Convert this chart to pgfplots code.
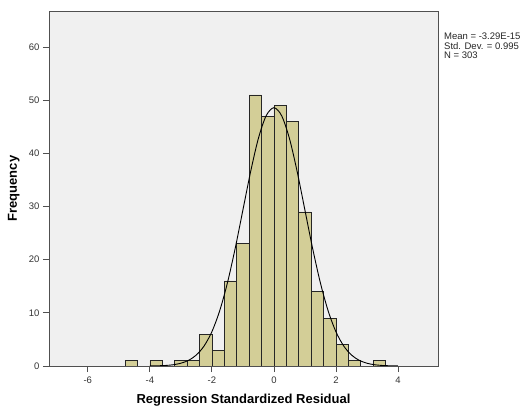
\documentclass[border=0pt]{standalone}
\usepackage{fontspec}
\setmainfont{Liberation Sans}
\usepackage{pgfplots}
\pgfplotsset{compat=1.18}
\definecolor{barfill}{RGB}{211,206,151}
\definecolor{plotbg}{RGB}{240,240,240}
\definecolor{framec}{RGB}{80,80,80}
\begin{document}
\begin{tikzpicture}
\begin{axis}[
  name=ax,
  scale only axis, width=389bp, height=355bp,
  xmin=-7.25, xmax=5.29, ymin=0, ymax=66.8,
  axis background/.style={fill=plotbg},
  axis line style={framec, line width=0.9bp},
  xtick={-6,-4,-2,0,2,4}, ytick={0,10,20,30,40,50,60},
  tick pos=left, tick align=outside,
  major tick length=6bp,
  tick style={framec, line width=0.8bp},
  /pgf/number format/assume math mode=true,
  ticklabel style={font=\fontsize{9.5bp}{11bp}\selectfont, text=black!80},
  xticklabel style={yshift=-1bp},
  xlabel={Regression Standardized Residual},
  ylabel={Frequency},
  label style={font=\bfseries\fontsize{13bp}{15bp}\selectfont},
  xlabel style={at={(axis description cs:0.5,0)}, anchor=center, yshift=-34bp},
  ylabel style={at={(axis description cs:-0.0905,0.5)}, anchor=center, rotate=0},
]
\addplot[ybar interval, fill=barfill, draw=black!85, line width=0.6bp] coordinates {
(-4.8,1) (-4.4,0) (-4.0,1) (-3.6,0) (-3.2,1) (-2.8,1) (-2.4,6) (-2.0,3)
(-1.6,16) (-1.2,23) (-0.8,51) (-0.4,47) (0.0,49) (0.4,46) (0.8,29)
(1.2,14) (1.6,9) (2.0,4) (2.4,1) (2.8,0) (3.2,1) (3.6,0)
};
\addplot[black, line width=0.9bp, smooth] coordinates {
(-4.0,0.01) (-3.75,0.04) (-3.5,0.10) (-3.25,0.23) (-3.0,0.52) (-2.75,1.07)
(-2.5,2.07) (-2.25,3.77) (-2.0,6.44) (-1.75,10.35) (-1.5,15.60) (-1.25,22.08)
(-1.0,29.33) (-0.75,36.58) (-0.5,42.83) (-0.25,47.09) (0.0,48.6)
(0.25,47.09) (0.5,42.83) (0.75,36.58) (1.0,29.33) (1.25,22.08) (1.5,15.60)
(1.75,10.35) (2.0,6.44) (2.25,3.77) (2.5,2.07) (2.75,1.07) (3.0,0.52)
(3.25,0.23) (3.5,0.10) (3.75,0.04) (4.0,0.01)
};
\end{axis}
\node[anchor=north west, align=left, inner sep=0pt,
  font=\fontsize{9.5bp}{9.5bp}\selectfont, text=black!85]
  at (ax.north east) [xshift=6bp, yshift=-22bp]
  {Mean = -3.29E-15\\Std. Dev. = 0.995\\N = 303};
\pgfresetboundingbox
\path[use as bounding box] (-49bp,-41bp) rectangle (475bp,366bp);
\end{tikzpicture}
\end{document}
